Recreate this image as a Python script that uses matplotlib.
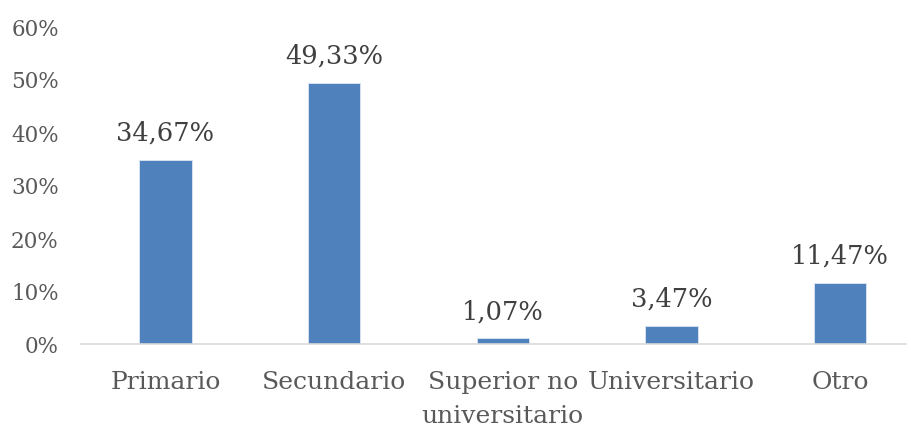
import matplotlib
matplotlib.use("Agg")
import matplotlib.pyplot as plt
from matplotlib.ticker import FuncFormatter

# datos
categorias = ["Primario", "Secundario", "Superior no\nuniversitario", "Universitario", "Otro"]
porcentajes = [34.67, 49.33, 1.07, 3.47, 11.47]
etiquetas = ["34,67%", "49,33%", "1,07%", "3,47%", "11,47%"]
yticks = [0, 10, 20, 30, 40, 50, 60]

plt.rcParams['font.family'] = ['DejaVu Serif']

fig = plt.figure(figsize=(9.11, 4.27), dpi=100)
# axes in pixel coords: left 81, right 906, bottom 345, top 27
ax = fig.add_axes([81 / 911, (427 - 345) / 427, (906 - 81) / 911, (345 - 27) / 427])

x = list(range(len(categorias)))
bars = ax.bar(x, porcentajes, width=0.31, color="#4F81BD", edgecolor="#DCE6F2", linewidth=0.6)

for xi, v, lab in zip(x, porcentajes, etiquetas):
    ax.annotate(lab, (xi, v), xytext=(0, 11), textcoords="offset points",
                ha="center", va="bottom", fontsize=18.5, color="#404040")

ax.set_xlim(-0.5, 4.39)
ax.set_ylim(0, 60)
ax.set_yticks(yticks)
ax.yaxis.set_major_formatter(FuncFormatter(lambda v, p: f"{int(v)}%"))
ax.set_xticks(x)
ax.set_xticklabels(categorias, linespacing=1.6)

for s in ["top", "right", "left"]:
    ax.spines[s].set_visible(False)
ax.spines["bottom"].set_color("#D9D9D9")
ax.spines["bottom"].set_linewidth(1.2)

ax.tick_params(axis="y", length=0, pad=16, labelsize=15.5, labelcolor="#595959")
ax.tick_params(axis="x", length=0, pad=19, labelsize=18, labelcolor="#595959")
for t in ax.get_xticklabels():
    t.set_verticalalignment("top")

fig.savefig("out.png", dpi=100)
